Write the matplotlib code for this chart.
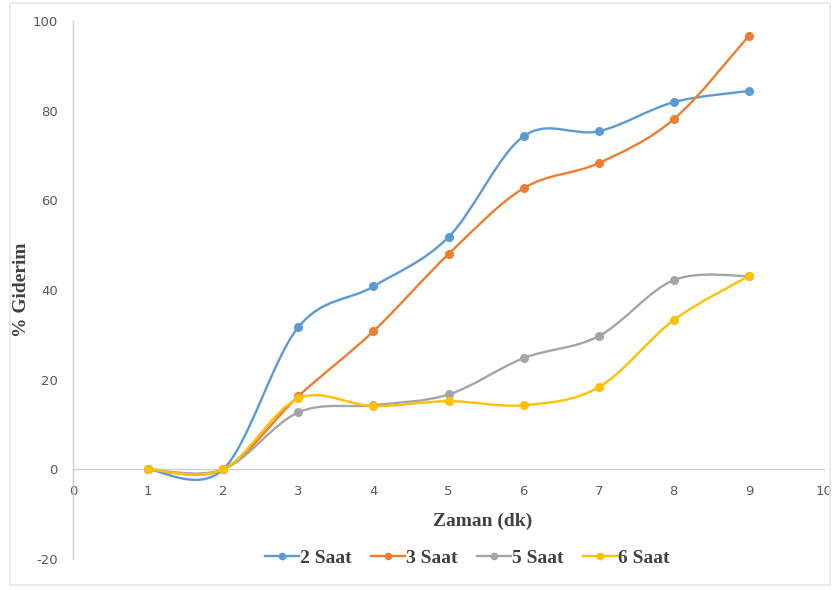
import numpy as np
import matplotlib
matplotlib.use("Agg")
import matplotlib.pyplot as plt
from matplotlib.path import Path
from matplotlib.patches import PathPatch, Rectangle
from matplotlib.lines import Line2D

plt.rcParams["axes.unicode_minus"] = False

# zaman (dk) ve % giderim degerleri
zaman = [1, 2, 3, 4, 5, 6, 7, 8, 9]
saat_2 = [0, 0, 31.7, 40.8, 51.8, 74.3, 75.4, 81.9, 84.4]
saat_3 = [0, 0, 16.3, 30.8, 48.0, 62.7, 68.3, 78.1, 96.7]
saat_5 = [0, 0, 12.7, 14.3, 16.7, 24.8, 29.7, 42.2, 43.1]
saat_6 = [0, 0, 15.8, 14.1, 15.2, 14.3, 18.3, 33.3, 43.1]

etiketler = ["2 Saat", "3 Saat", "5 Saat", "6 Saat"]
renkler = ["#5B9BD5", "#ED7D31", "#A5A5A5", "#FFC000"]


def smooth_path(x, y):
    # Excel tarzi yumusak cizgi: Catmull-Rom -> kubik Bezier
    x = np.asarray(x, float)
    y = np.asarray(y, float)
    pts = np.column_stack([x, y])
    verts = [pts[0]]
    codes = [Path.MOVETO]
    n = len(pts)
    for i in range(n - 1):
        p0 = pts[i - 1] if i > 0 else pts[i]
        p1 = pts[i]
        p2 = pts[i + 1]
        p3 = pts[i + 2] if i + 2 < n else pts[i + 1]
        c1 = p1 + (p2 - p0) / 6.0
        c2 = p2 - (p3 - p1) / 6.0
        verts += [c1, c2, p2]
        codes += [Path.CURVE4] * 3
    return Path(verts, codes)


fig = plt.figure(figsize=(8.4, 5.9), dpi=100)
ax = fig.add_axes([73 / 840, 1 - 559 / 590, (824 - 73) / 840, (559 - 21) / 590])

seriler = [saat_2, saat_3, saat_5, saat_6]
for vals, renk in zip(seriler, renkler):
    ax.add_patch(PathPatch(smooth_path(zaman, vals), facecolor="none",
                           edgecolor=renk, lw=1.7, zorder=3))
    ax.plot(zaman, vals, "o", color=renk, ms=5.5, zorder=4)

ax.set_xlim(0, 10)
ax.set_ylim(-20, 100)
ax.set_xticks(range(0, 11))
ax.set_yticks(range(-20, 101, 20))

for s in ["top", "right"]:
    ax.spines[s].set_visible(False)
ax.spines["bottom"].set_position(("data", 0))
ax.spines["bottom"].set_color("#D0D0D0")
ax.spines["left"].set_color("#D0D0D0")
ax.spines["bottom"].set_linewidth(1.0)
ax.spines["left"].set_linewidth(1.0)
ax.tick_params(length=0, labelsize=9.5, colors="#595959")
ax.tick_params(axis="x", pad=11)
ax.tick_params(axis="y", pad=11)

serif = dict(family="Liberation Serif", weight="bold", color="#404040")
fig.text(483 / 840, 1 - 521 / 590, "Zaman (dk)", ha="center", va="center",
         fontsize=14, **serif)
fig.text(22 / 840, 1 - 290 / 590, "% Giderim", ha="center", va="center",
         rotation=90, fontsize=14, **serif)

handles = [Line2D([], [], color=r, lw=1.7, marker="o", ms=4.5) for r in renkler]
fig.legend(handles, etiketler, loc="center", bbox_to_anchor=(467 / 840, 1 - 558 / 590),
           ncol=4, frameon=False, handlelength=1.75, handletextpad=0.05,
           columnspacing=1.0, prop=dict(family="Liberation Serif", weight="bold", size=14),
           labelcolor="#404040")

fig.patches.append(Rectangle((10 / 840, 1 - 585 / 590), 820 / 840, 582 / 590,
                             transform=fig.transFigure, fill=False,
                             edgecolor="#E6E6E6", lw=1.2))

fig.savefig("out.png", dpi=100)
